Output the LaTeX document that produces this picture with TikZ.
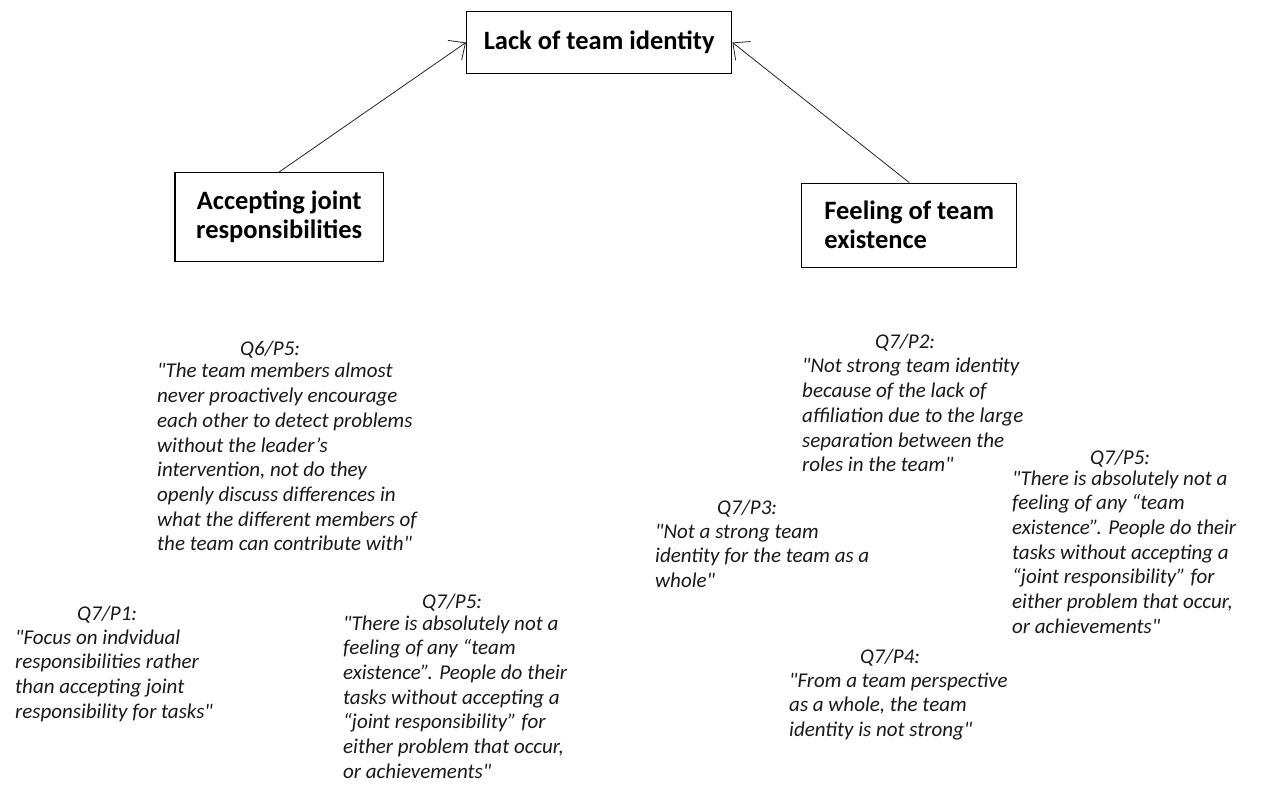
\documentclass[tikz,border=0pt]{standalone}
\usepackage{fontspec}
\usetikzlibrary{arrows.meta}
% Carlito without TeX ligature mapping, so that " stays a straight quote
\newfontfamily\calfont{Carlito}
\newcommand{\quotefont}{\calfont\itshape\fontsize{21}{24.7}\selectfont}
\newcommand{\boxfont}{\calfont\bfseries\fontsize{26.5}{29}\selectfont}
\newcommand{\lines}[1]{\begin{tabular}[t]{@{}l@{}}#1\end{tabular}}
\tikzset{
  themebox/.style={draw=black, line width=1.5pt, fill=white, inner sep=0pt, font=\boxfont},
  conn/.style={draw=black!85, line width=0.8pt, -{Straight Barb[length=13pt,width=24pt]}},
  qhead/.style={anchor=base west, inner sep=0pt, font=\quotefont, text=black!90},
  qbody/.style={anchor=base west, inner sep=0pt, font=\quotefont, text=black!90},
}
\begin{document}
\begin{tikzpicture}[x=1pt, y=-1pt]
\fill[white] (0,0) rectangle (1261,782);

% theme boxes
\node[themebox, minimum width=265pt, minimum height=61.6pt] (lack) at (599.2,42.5) {Lack of team identity};
\node[themebox, align=center, minimum width=208.3pt, minimum height=89pt] (ajr) at (279.2,217.2) {Accepting joint\\responsibilities};
\node[themebox, align=left, minimum width=215pt, minimum height=84pt] (fex) at (909.2,225.3) {Feeling of team\\existence};

% connectors
\draw[conn] (ajr.north) -- (lack.west);
\draw[conn] (fex.north) -- (lack.east);

% quotes under "Accepting joint responsibilities"
\node[qhead] (h1) at (240,356) {Q6/P5:};
\node[qbody] (q1) at (157,378) {\lines{"The team members almost\\never proactively encourage\\each other to detect problems\\without the leader’s\\intervention, not do they\\openly discuss differences in\\what the different members of\\the team can contribute with"}};

\node[qhead] (h2) at (77,620) {Q7/P1:};
\node[qbody] (q2) at (15,644) {\lines{"Focus on indvidual\\responsibilities rather\\than accepting joint\\responsibility for tasks"}};

\node[qhead] (h3) at (422,608) {Q7/P5:};
\node[qbody] (q3) at (343,630) {\lines{"There is absolutely not a\\feeling of any “team\\existence”. People do their\\tasks without accepting a\\“joint responsibility” for\\either problem that occur,\\or achievements"}};

% quotes under "Feeling of team existence"
\node[qhead] (h4) at (875,349) {Q7/P2:};
\node[qbody] (q4) at (802,373) {\lines{"Not strong team identity\\because of the lack of\\affiliation due to the large\\separation between the\\roles in the team"}};

\node[qhead] (h5) at (717,514) {Q7/P3:};
\node[qbody] (q5) at (655,538) {\lines{"Not a strong team\\identity for the team as a\\whole"}};

\node[qhead] (h6) at (1090,464) {Q7/P5:};
\node[qbody] (q6) at (1012,485) {\lines{"There is absolutely not a\\feeling of any “team\\existence”. People do their\\tasks without accepting a\\“joint responsibility” for\\either problem that occur,\\or achievements"}};

\node[qhead] (h7) at (860,663) {Q7/P4:};
\node[qbody] (q7) at (789,687) {\lines{"From a team perspective\\as a whole, the team\\identity is not strong"}};
\end{tikzpicture}
\end{document}
